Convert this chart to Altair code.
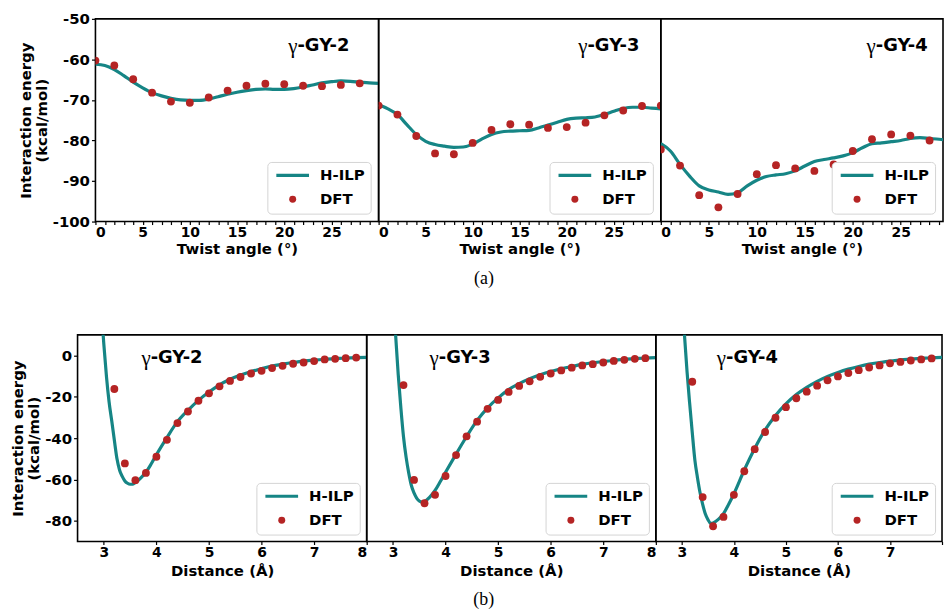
import altair as alt
import pandas as pd

# ---------------- data ----------------
# (a) twist-angle scans
twist_dft = [0, 2, 4, 6, 8, 10, 12, 14, 16, 18, 20, 22, 24, 26, 28]
twist_dft_ext = twist_dft + [30]
twist_line = list(range(0, 31))

gy2_twist_dft = [-60.3, -61.5, -64.9, -68.2, -70.4, -70.7, -69.4, -67.7, -66.5, -66.0,
                 -66.1, -66.5, -66.6, -66.3, -65.9]
gy3_twist_dft = [-71.4, -73.6, -78.9, -83.2, -83.4, -80.6, -77.4, -76.0, -76.1, -76.9,
                 -76.7, -75.6, -73.8, -72.6, -71.5, -71.4]
gy4_twist_dft = [-82.2, -86.2, -93.5, -96.5, -93.2, -88.3, -86.1, -86.9, -87.5, -85.9,
                 -82.6, -79.7, -78.5, -78.8, -80.0, -80.7]

gy2_twist_ilp = [-61.2, -61.5, -62.5, -64.0, -65.6, -67.0, -68.2, -69.0, -69.6, -70.0,
                 -70.1, -70.1, -69.8, -69.2, -68.6, -68.1, -67.7, -67.4, -67.3, -67.4,
                 -67.4, -67.2, -66.8, -66.3, -65.8, -65.5, -65.3, -65.4, -65.6, -65.8, -65.9]
gy3_twist_ilp = [-71.2, -72.2, -73.6, -76.1, -78.5, -80.2, -81.0, -81.4, -81.7, -81.6,
                 -80.9, -79.6, -78.5, -77.9, -77.7, -77.6, -77.5, -76.9, -76.2, -75.5,
                 -74.8, -74.5, -74.4, -74.2, -73.6, -72.8, -72.1, -71.8, -71.8, -72.0, -72.2]
gy4_twist_ilp = [-80.8, -82.6, -85.9, -88.8, -91.2, -92.2, -92.7, -93.3, -92.9, -91.2,
                 -89.8, -88.9, -88.5, -88.2, -87.5, -86.3, -85.2, -84.7, -84.3, -83.8,
                 -83.0, -81.8, -80.8, -80.6, -80.3, -80.0, -79.5, -79.3, -79.5, -79.7, -80.0]

# (b) binding curves
dist_dft = [3.2, 3.4, 3.6, 3.8, 4.0, 4.2, 4.4, 4.6, 4.8, 5.0, 5.2, 5.4, 5.6, 5.8, 6.0,
            6.2, 6.4, 6.6, 6.8, 7.0, 7.2, 7.4, 7.6, 7.8]
dist_line = [2.95, 3.0, 3.05, 3.1, 3.15, 3.2, 3.25, 3.3, 3.35, 3.4, 3.45, 3.5, 3.55, 3.6,
             3.7, 3.8, 3.9, 4.0, 4.2, 4.4, 4.6, 4.8, 5.0, 5.2, 5.4, 5.6, 5.8, 6.0, 6.2,
             6.4, 6.6, 6.8, 7.0, 7.2, 7.4, 7.6, 7.8, 8.0]

gy2_bind_dft = [-16.2, -52.2, -60.3, -56.8, -49.0, -40.8, -32.7, -27.1, -21.9, -18.3,
                -14.9, -12.3, -10.4, -8.7, -7.4, -6.1, -5.0, -4.0, -3.4, -2.7, -1.9,
                -1.6, -1.3, -1.0]
gy3_bind_dft = [-14.3, -60.2, -71.5, -67.4, -58.3, -48.2, -39.1, -32.0, -25.8, -21.5,
                -17.6, -14.7, -12.5, -10.3, -8.7, -7.2, -5.9, -4.8, -4.2, -3.4, -2.6,
                -2.1, -1.6, -1.3]
gy4_bind_dft = [-12.7, -68.5, -82.6, -78.1, -67.4, -56.0, -45.3, -37.0, -30.1, -25.0,
                -20.7, -17.5, -14.6, -12.0, -10.1, -8.5, -7.1, -5.8, -4.8, -3.8, -3.1,
                -2.4, -1.9, -1.4]

gy2_bind_ilp = [23, 5.4, -10.2, -22.5, -31.6, -41, -50, -55.5, -58.5, -60.7, -61.8, -62.3,
                -62.2, -61.5, -59.3, -56.5, -52.5, -48, -39.7, -32, -26.5, -21.7, -17.7,
                -14.2, -11.5, -9.4, -7.8, -6.4, -5.1, -4.2, -3.4, -2.7, -2.2, -1.8, -1.5,
                -1.2, -1.0, -0.9]
gy3_bind_ilp = [50, 30, 10, -9.4, -25.3, -39.3, -49.3, -56.9, -62.9, -66.5, -69, -70.4,
                -70.9, -70.6, -68.5, -65.3, -61, -56.5, -47.7, -39.2, -31.4, -25.3, -20.5,
                -16.5, -13.6, -11.2, -9.3, -7.7, -6.4, -5.3, -4.3, -3.5, -2.9, -2.4, -1.8,
                -1.5, -1.2, -1.0]
gy4_bind_ilp = [50, 30, 10, -7.9, -23.2, -37.3, -50.6, -59.1, -66.4, -72, -76.6, -79.3,
                -81.2, -81.0, -79.3, -76.5, -72, -66.9, -55.4, -45.0, -36.0, -29.0, -23.4,
                -18.9, -15.4, -12.5, -10.1, -8.2, -6.6, -5.3, -4.2, -3.4, -2.7, -2.2, -1.7,
                -1.4, -1.1, -0.9]

series_names = ["H-ILP", "DFT"]
names = ["-GY-2", "-GY-3", "-GY-4"]

TEAL = "#168585"
RED = "#b52424"
LINE_SYMBOL = "M-4.7,-0.45H4.7V0.45H-4.7Z"


def make_legend(offset):
    return alt.Legend(title=None, orient="bottom-right", offset=offset, fillColor="white",
                      strokeColor="#d4d4d4", cornerRadius=4, padding=6,
                      labelFont="DejaVu Sans", labelFontSize=15, labelFontWeight="bold",
                      labelColor="black", symbolSize=49, symbolStrokeWidth=0,
                      rowPadding=8, symbolOffset=12, labelOffset=20)


def panel(lx, ly, px, py, xdom, ydom, xaxis, yaxis, gname, gx, gy, w, h, loff):
    xs = alt.Scale(domain=xdom, nice=False, zero=False)
    ys = alt.Scale(domain=ydom, nice=False, zero=False)
    X = alt.X("x:Q", scale=xs, axis=xaxis)
    Y = alt.Y("y:Q", scale=ys, axis=yaxis)
    line_df = pd.DataFrame({"x": lx, "y": ly})
    dot_df = pd.DataFrame({"x": px, "y": py, "series": ["DFT"] * len(px)})
    lab_df = pd.DataFrame({"x": [gx], "y": [gy], "g": ["γ"], "n": [gname]})

    line = alt.Chart(line_df).mark_line(color=TEAL, strokeWidth=3.2, interpolate="monotone",
                                        clip=True).encode(x=X, y=Y)
    dots = alt.Chart(dot_df).mark_point(filled=True, size=62, opacity=1, clip=True).encode(
        x=X, y=Y,
        color=alt.Color("series:N", scale=alt.Scale(domain=series_names, range=[TEAL, RED]),
                        legend=make_legend(loff)),
        shape=alt.Shape("series:N", scale=alt.Scale(domain=series_names,
                                                    range=[LINE_SYMBOL, "circle"]),
                        legend=make_legend(loff)),
    )
    gam = alt.Chart(lab_df).mark_text(align="right", baseline="middle", font="Liberation Serif",
                                      fontSize=21, color="black", dy=1).encode(x=X, y=Y, text="g:N")
    gyt = alt.Chart(lab_df).mark_text(align="left", baseline="middle", font="DejaVu Sans",
                                      fontWeight="bold", fontSize=18, color="black").encode(
        x=X, y=Y, text="n:N")
    return alt.layer(line, dots, gam, gyt).properties(width=w, height=h)


def spacer(w, h):
    return alt.Chart(pd.DataFrame({"s": [0]})).mark_point(opacity=0).encode(
        x=alt.X("s:Q", axis=None), y=alt.Y("s:Q", axis=None)
    ).properties(width=w, height=h, view=alt.ViewBackground(stroke="transparent"))


def twist_axis():
    return alt.Axis(values=list(range(0, 30)),
                    labelExpr="datum.value % 5 === 0 ? toString(datum.value) : ''",
                    title="Twist angle (°)", tickSize=3, labelPadding=1, titlePadding=2,
                    labelFontSize=14)


def dist_axis(hide_last=False):
    expr = "datum.value < 8 ? toString(datum.value) : ''" if hide_last else "toString(datum.value)"
    return alt.Axis(values=[3, 4, 5, 6, 7, 8], labelExpr=expr, title="Distance (Å)",
                    tickSize=3, labelPadding=1, titlePadding=4, labelFontSize=14)


y_top_axis = alt.Axis(values=[-50, -60, -70, -80, -90, -100], labelExpr="toString(datum.value)",
                      title=["Interaction energy", "(kcal/mol)"], tickSize=4, labelPadding=2,
                      titlePadding=3)
y_bot_axis = alt.Axis(values=[0, -20, -40, -60, -80], labelExpr="toString(datum.value)",
                      title=["Interaction energy", "(kcal/mol)"], tickSize=4, labelPadding=2,
                      titlePadding=3)

TH = 204
BH = 208
t1 = panel(twist_line, gy2_twist_ilp, twist_dft, gy2_twist_dft, [0, 30], [-100, -50],
           twist_axis(), y_top_axis, names[0], 21.4, -56.8, 285, TH, 8)
t2 = panel(twist_line, gy3_twist_ilp, twist_dft_ext, gy3_twist_dft, [0, 30], [-100, -50],
           twist_axis(), None, names[1], 22.2, -56.8, 284, TH, 8)
t3 = panel(twist_line, gy4_twist_ilp, twist_dft_ext, gy4_twist_dft, [0, 29.4], [-100, -50],
           twist_axis(), None, names[2], 22.4, -56.8, 284, TH, 8)

b1 = panel(dist_line, gy2_bind_ilp, dist_dft, gy2_bind_dft, [2.5, 8], [-90, 10],
           dist_axis(), y_bot_axis, names[0], 3.89, -1.3, 291, BH, 7)
b2 = panel(dist_line, gy3_bind_ilp, dist_dft, gy3_bind_dft, [2.5, 8], [-90, 10],
           dist_axis(), None, names[1], 3.87, -1.3, 291, BH, 7)
b3 = panel(dist_line, gy4_bind_ilp, dist_dft, gy4_bind_dft, [2.5, 8], [-90, 10],
           dist_axis(True), None, names[2], 3.85, -1.3, 288, BH, 7)

row_a = alt.hconcat(spacer(87, TH), t1, t2, t3, spacing=0, bounds="flush").resolve_scale(
    color="independent", shape="independent").properties(
    title=alt.TitleParams("(a)", orient="bottom", anchor="middle", font="Liberation Serif",
                          fontSize=18, fontWeight="normal", color="black", offset=13, dx=8))
row_b = alt.hconcat(spacer(69, BH), b1, b2, b3, spacing=0, bounds="flush").resolve_scale(
    color="independent", shape="independent").properties(
    title=alt.TitleParams("(b)", orient="bottom", anchor="middle", font="Liberation Serif",
                          fontSize=18, fontWeight="normal", color="black", offset=12, dx=8))

chart = alt.vconcat(row_a, row_b, spacing=46).resolve_scale(
    color="independent", shape="independent"
).properties(
    padding={"left": 0, "top": 1, "right": 0, "bottom": 0}, background="white"
).configure_view(
    stroke="black", strokeWidth=1.6
).configure_axis(
    labelFont="DejaVu Sans", labelFontSize=15, labelFontWeight="bold", labelColor="black",
    titleFont="DejaVu Sans", titleFontSize=15, titleFontWeight="bold", titleColor="black",
    titleLineHeight=16, grid=False, domain=False, tickColor="black", tickWidth=1.2
)

chart.save("out.html", embed_options={"renderer": "svg", "actions": False})
